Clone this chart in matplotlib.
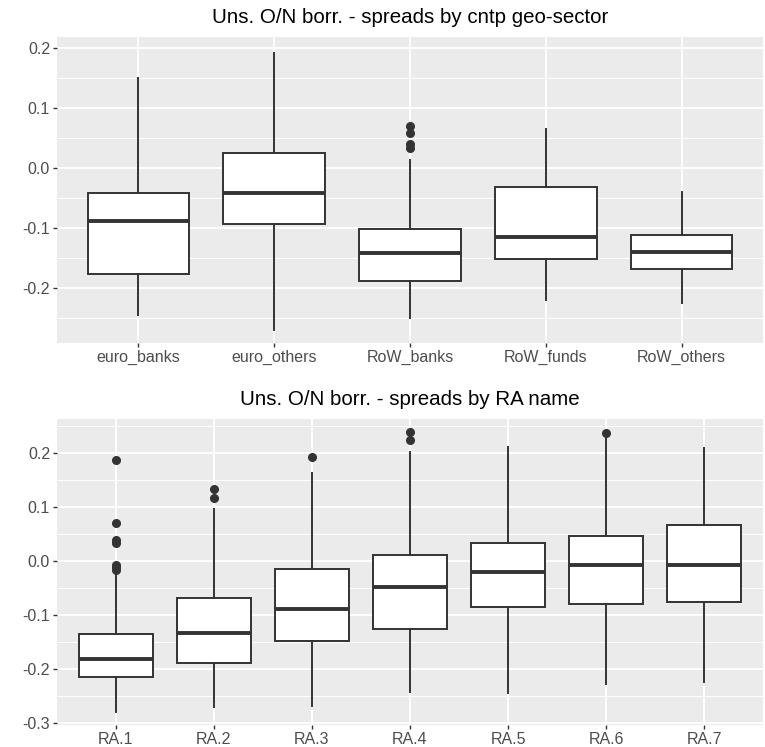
import matplotlib
matplotlib.use("Agg")
from matplotlib import pyplot as plt
import numpy as np

plt.rcParams['font.family'] = ['Liberation Sans', 'DejaVu Sans']

# spreads by counterparty geo-sector
sector_names = ["euro_banks", "euro_others", "RoW_banks", "RoW_funds", "RoW_others"]
sector_low = [-0.245, -0.270, -0.250, -0.220, -0.225]
sector_q1 = [-0.177, -0.093, -0.188, -0.152, -0.168]
sector_med = [-0.088, -0.042, -0.142, -0.115, -0.140]
sector_q3 = [-0.042, 0.025, -0.102, -0.032, -0.112]
sector_high = [0.150, 0.192, 0.013, 0.065, -0.040]
sector_out = [[], [], [0.070, 0.058, 0.040, 0.033], [], []]

# spreads by rating agency name
ra_names = ["RA.1", "RA.2", "RA.3", "RA.4", "RA.5", "RA.6", "RA.7"]
ra_low = [-0.280, -0.270, -0.269, -0.242, -0.244, -0.228, -0.224]
ra_q1 = [-0.215, -0.190, -0.148, -0.127, -0.085, -0.079, -0.076]
ra_med = [-0.182, -0.134, -0.089, -0.048, -0.021, -0.008, -0.008]
ra_q3 = [-0.135, -0.069, -0.015, 0.011, 0.034, 0.046, 0.066]
ra_high = [-0.025, 0.096, 0.163, 0.201, 0.211, 0.228, 0.209]
ra_out = [[0.187, 0.071, 0.039, 0.034, -0.008, -0.012, -0.017],
          [0.133, 0.117], [0.193], [0.238, 0.224], [], [0.237], []]

W, H = 765, 747
fig = plt.figure(figsize=(W / 100, H / 100), dpi=100)


def panel(top, bottom, names, lo, q1, med, q3, hi, out, ylim, yticks, minor, title, tpad):
    ax = fig.add_axes([57 / W, (H - bottom) / H, 706 / W, (bottom - top) / H])
    ax.set_facecolor("#EBEBEB")
    for s in ax.spines.values():
        s.set_visible(False)
    stats = []
    for i in range(len(names)):
        stats.append(dict(whislo=lo[i], q1=q1[i], med=med[i], q3=q3[i],
                          whishi=hi[i], fliers=out[i]))
    pos = np.arange(1, len(names) + 1)
    ax.bxp(stats, positions=pos, widths=0.75, patch_artist=True,
           showcaps=False, zorder=3,
           boxprops=dict(facecolor="white", edgecolor="#333333", linewidth=1.4),
           medianprops=dict(color="#333333", linewidth=2.8, solid_capstyle="butt"),
           whiskerprops=dict(color="#333333", linewidth=1.4),
           flierprops=dict(marker="o", markersize=5.5, markerfacecolor="#333333",
                           markeredgecolor="#333333"))
    ax.set_xlim(0.4, len(names) + 0.6)
    ax.set_ylim(*ylim)
    ax.set_xticks(pos)
    ax.set_xticklabels(names)
    ax.set_yticks(yticks)
    ax.set_yticklabels(["%.1f" % v for v in yticks])
    ax.set_yticks(minor, minor=True)
    ax.grid(True, which="major", color="white", linewidth=1.4, zorder=0)
    ax.grid(True, which="minor", axis="y", color="white", linewidth=0.7, zorder=0)
    ax.set_axisbelow(True)
    ax.tick_params(axis="both", which="major", length=3, width=1, color="#333333",
                   labelcolor="#4D4D4D", labelsize=11.5, pad=2)
    ax.tick_params(axis="y", which="minor", length=0)
    ax.set_title(title, fontsize=14.8, color="black", pad=tpad)
    return ax


panel(37, 343, sector_names, sector_low, sector_q1, sector_med, sector_q3,
      sector_high, sector_out, (-0.292, 0.218),
      [-0.2, -0.1, 0.0, 0.1, 0.2], [-0.25, -0.15, -0.05, 0.05, 0.15],
      "Uns. O/N borr. - spreads by cntp geo-sector", 10)

panel(419, 725, ra_names, ra_low, ra_q1, ra_med, ra_q3, ra_high, ra_out,
      (-0.304, 0.263),
      [-0.3, -0.2, -0.1, 0.0, 0.1, 0.2], [-0.25, -0.15, -0.05, 0.05, 0.15, 0.25],
      "Uns. O/N borr. - spreads by RA name", 10)

fig.savefig("out.png", dpi=100, facecolor="white")
